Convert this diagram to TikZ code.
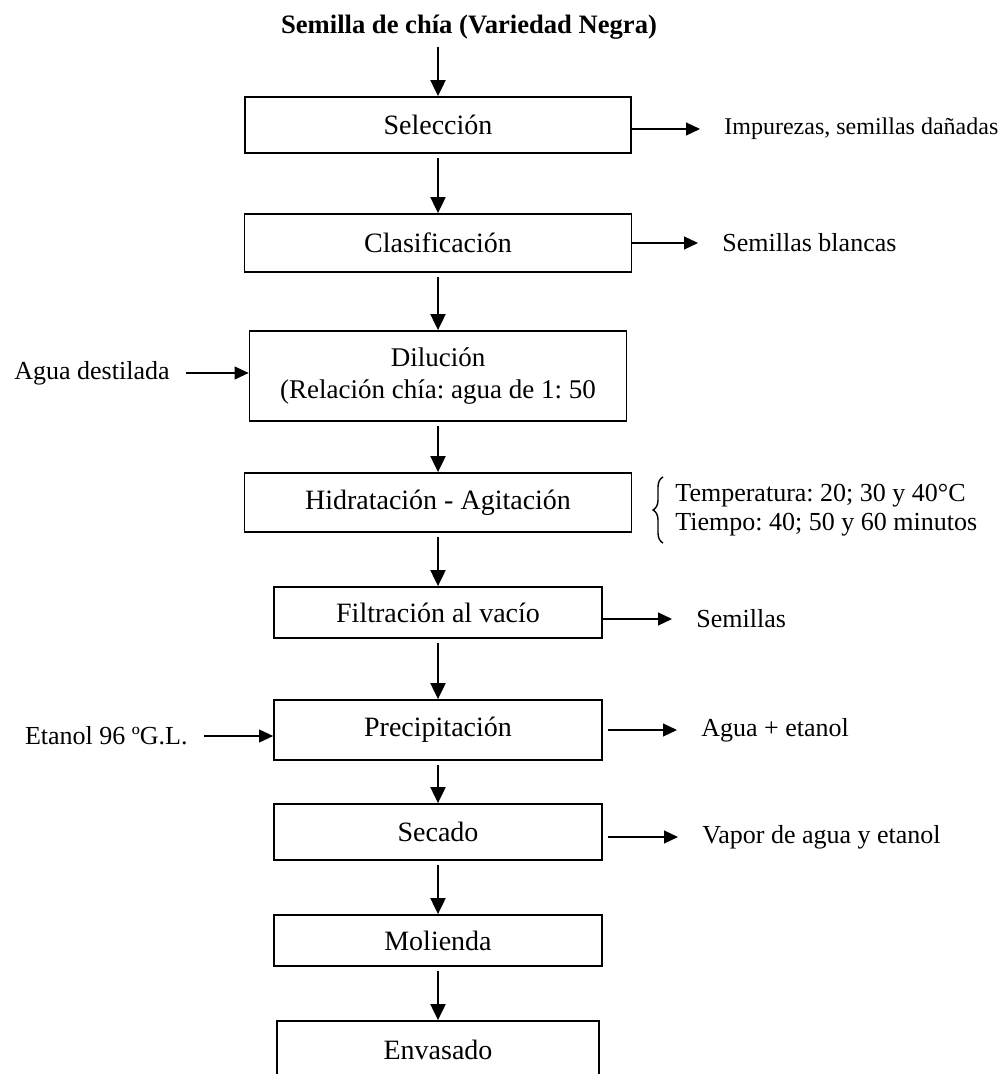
\documentclass[tikz,border=0pt]{standalone}
\usepackage{fontspec}
\setmainfont{Liberation Serif}
\usetikzlibrary{positioning}
\usetikzlibrary{arrows.meta}
\usetikzlibrary{decorations.pathreplacing}
\frenchspacing
\tikzstyle{block} = [draw, rectangle, line width=0.9pt, inner sep=0pt, font=\fontsize{14}{16}\selectfont]
\tikzstyle{outlbl} = [anchor=west, inner xsep=12pt, font=\fontsize{13}{15}\selectfont]
\tikzstyle{inlbl} = [anchor=east, inner xsep=8pt, font=\fontsize{13}{15}\selectfont]
\tikzstyle{flow} = [-{Triangle[length=8pt,width=7.5pt]}, line width=1pt, shorten <=2pt]
\tikzstyle{side} = [-{Triangle[length=7pt,width=6.5pt]}, line width=0.55pt]

\begin{document}
\begin{tikzpicture}[x=0.5pt,y=-0.5pt,node distance=59pt]
    \useasboundingbox (0,0) rectangle (1003,1074);
    \node [font=\bfseries\fontsize{13.3}{15}\selectfont, inner ysep=1.5pt] (seed) at (469,27) {Semilla de chía (Variedad Negra)};
    \node [block, minimum width=193pt, minimum height=28pt] (sel) at (438,125) {Selección};
    \node [block, below of=sel, minimum width=193.5pt, minimum height=29pt] (clas) {Clasificación};
    \node [block, below of=clas, node distance=66.5pt, minimum width=188.5pt, minimum height=45pt, align=center, font=\fontsize{13.5}{16}\selectfont] (dil) {Dilución\\(Relación chía: agua de 1: 50};
    \node [block, below of=dil, node distance=63.25pt, minimum width=193.5pt, minimum height=29.5pt] (hid) {Hidratación - Agitación};
    \node [block, below of=hid, node distance=55pt, minimum width=164pt, minimum height=25.5pt] (filt) {Filtración al vacío};
    \node [block, below of=filt, node distance=58.75pt, minimum width=164pt, minimum height=30pt] (prec) {Precipitación};
    \node [block, below of=prec, node distance=51pt, minimum width=164pt, minimum height=28pt] (sec) {Secado};
    \node [block, below of=sec, node distance=54.25pt, minimum width=164pt, minimum height=25.5pt] (mol) {Molienda};
    \node [block, below of=mol, node distance=54.75pt, minimum width=161pt, minimum height=29pt] (env) {Envasado};

    % entradas y salidas
    \node [outlbl, font=\fontsize{12}{14}\selectfont] (imp) at (700,129) {Impurezas, semillas dañadas};
    \node [outlbl] (blancas) at (698,243) {Semillas blancas};
    \node [inlbl] (agua) at (186,373) {Agua destilada};
    \node [anchor=west, inner xsep=6pt, align=left, font=\fontsize{13}{14.5}\selectfont] (cond) at (663,510) {Temperatura: 20; 30 y 40°C\\Tiempo: 40; 50 y 60 minutos};
    \node [outlbl] (sem) at (672,619) {Semillas};
    \node [inlbl] (etanol) at (204,736) {Etanol 96 ºG.L.};
    \node [outlbl] (resid) at (677,730) {Agua + etanol};
    \node [outlbl] (vapor) at (678,837) {Vapor de agua y etanol};

    \draw [flow] (seed.south -| sel.north) -- (sel);
    \draw [flow] (sel) -- (clas);
    \draw [flow] (clas) -- (dil);
    \draw [flow] (dil) -- (hid);
    \draw [flow] (hid) -- (filt);
    \draw [flow] (filt) -- (prec);
    \draw [flow] (prec) -- (sec);
    \draw [flow] (sec) -- (mol);
    \draw [flow] (mol) -- (env);

    \draw [side] (imp.west -| sel.east) -- (imp.west);
    \draw [side] (blancas.west -| clas.east) -- (blancas.west);
    \draw [side] (agua.east) -- (agua.east -| dil.west);
    \draw [decorate, decoration={brace, amplitude=5pt}, line width=0.7pt] (cond.south west) -- (cond.north west);
    \draw [side] (sem.west -| filt.east) -- (sem.west);
    \draw [side] (etanol.east) -- (etanol.east -| prec.west);
    \draw [side] ([xshift=2.5pt]resid.west -| prec.east) -- (resid.west);
    \draw [side] ([xshift=2.5pt]vapor.west -| sec.east) -- (vapor.west);
\end{tikzpicture}
\end{document}
